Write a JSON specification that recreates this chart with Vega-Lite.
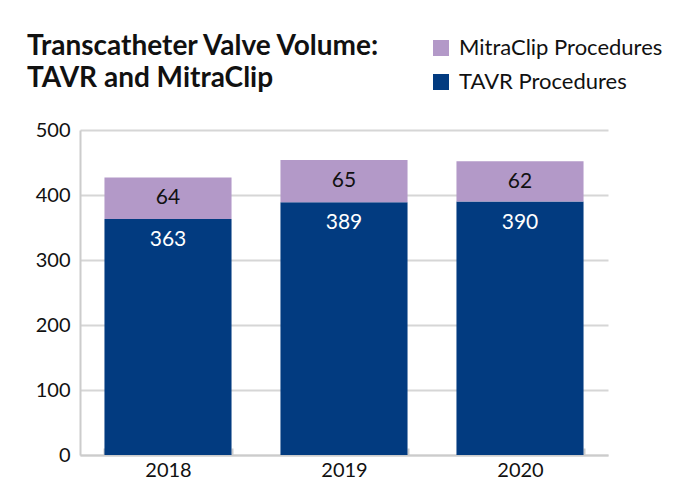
{
  "$schema": "https://vega.github.io/schema/vega-lite/v6.json",
  "width": 528,
  "height": 325,
  "autosize": {"type": "none"},
  "padding": {"left": 80, "top": 130, "right": 78, "bottom": 43},
  "background": "white",
  "title": {
    "text": ["Transcatheter Valve Volume:", "TAVR and MitraClip"],
    "anchor": "start",
    "frame": "group",
    "font": "Lato",
    "fontWeight": "bold",
    "fontSize": 28,
    "lineHeight": 32,
    "color": "#111111",
    "dx": -53,
    "offset": -56
  },
  "data": {
    "values": [
      {"year": "2018", "series": "TAVR Procedures", "value": 363, "ord": 0},
      {"year": "2018", "series": "MitraClip Procedures", "value": 64, "ord": 1},
      {"year": "2019", "series": "TAVR Procedures", "value": 389, "ord": 0},
      {"year": "2019", "series": "MitraClip Procedures", "value": 65, "ord": 1},
      {"year": "2020", "series": "TAVR Procedures", "value": 390, "ord": 0},
      {"year": "2020", "series": "MitraClip Procedures", "value": 62, "ord": 1}
    ]
  },
  "transform": [
    {"stack": "value", "groupby": ["year"], "sort": [{"field": "ord", "order": "ascending"}], "as": ["v0", "v1"]}
  ],
  "encoding": {
    "x": {
      "field": "year",
      "type": "nominal",
      "title": null,
      "scale": {"paddingInner": 0.278, "paddingOuter": 0.139},
      "axis": {
        "labelAngle": 0,
        "labelFont": "Lato",
        "labelFontSize": 20,
        "labelColor": "#111111",
        "labelPadding": 12,
        "domainColor": "#cccccc",
        "domainWidth": 2,
        "tickBand": "extent",
        "tickColor": "#cccccc",
        "tickWidth": 2,
        "tickSize": -7,
        "grid": false
      }
    }
  },
  "layer": [
    {
      "mark": {"type": "bar"},
      "encoding": {
        "y": {
          "field": "v1",
          "type": "quantitative",
          "title": null,
          "scale": {"domain": [0, 500], "nice": false},
          "axis": {
            "values": [0, 100, 200, 300, 400, 500],
            "labelFont": "Lato",
            "labelFontSize": 20,
            "labelColor": "#111111",
            "labelPadding": 10,
            "ticks": false,
            "domainColor": "#cccccc",
            "domainWidth": 2,
            "gridColor": "#d6d6d6",
            "gridWidth": 2
          }
        },
        "y2": {"field": "v0"},
        "color": {
          "field": "series",
          "type": "nominal",
          "scale": {
            "domain": ["MitraClip Procedures", "TAVR Procedures"],
            "range": ["#b399c8", "#023b80"]
          },
          "legend": {
            "title": null,
            "orient": "none",
            "legendX": 350,
            "legendY": -93,
            "symbolType": "square",
            "symbolSize": 256,
            "symbolStrokeWidth": 0,
            "symbolOpacity": 1,
            "labelFont": "Lato",
            "labelFontSize": 22,
            "labelColor": "#111111",
            "labelOffset": 7,
            "labelLimit": 400,
            "rowPadding": 12,
            "padding": 0
          }
        }
      }
    },
    {
      "mark": {"type": "text", "baseline": "middle", "align": "center", "dy": 21, "font": "Lato", "fontSize": 21},
      "encoding": {
        "y": {"field": "v1", "type": "quantitative"},
        "text": {"field": "value", "type": "quantitative"},
        "color": {
          "condition": {"test": "datum.series === 'TAVR Procedures'", "value": "white"},
          "value": "#111111"
        }
      }
    }
  ],
  "config": {
    "view": {"stroke": null}
  }
}
